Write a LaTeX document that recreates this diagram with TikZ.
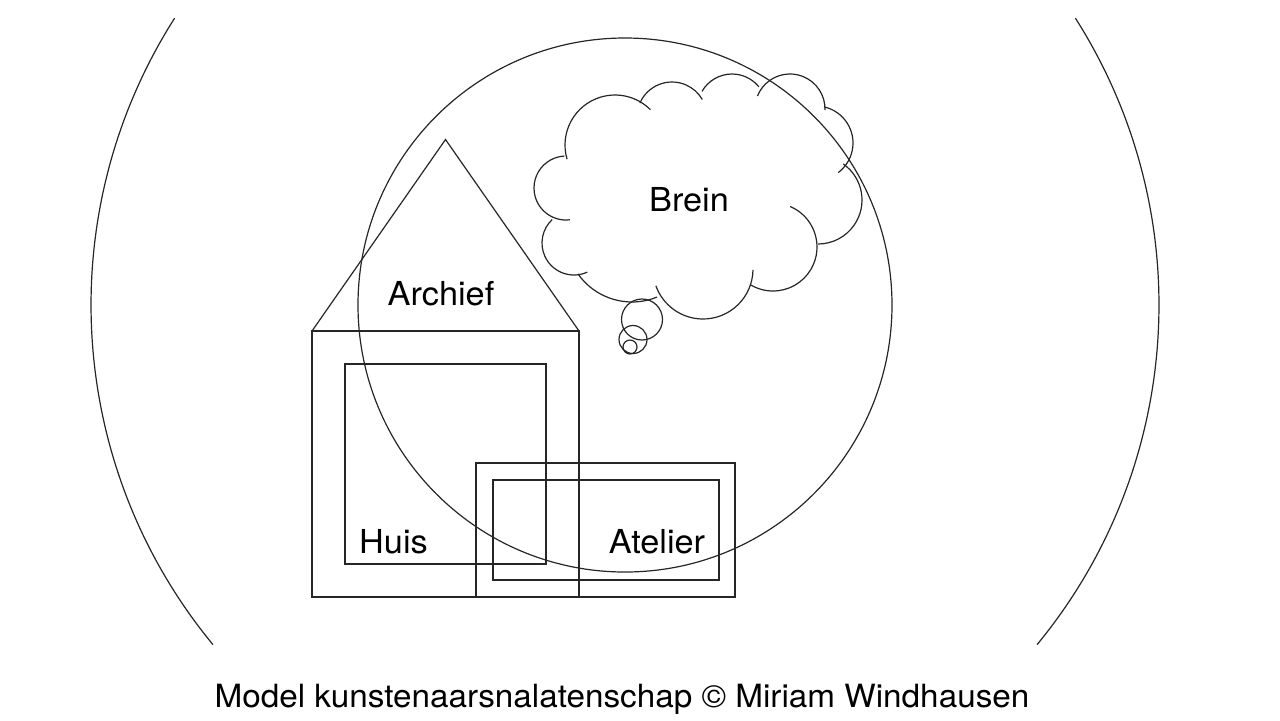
\documentclass[tikz,border=0pt]{standalone}
\usepackage{fontspec}
\setmainfont{TeX Gyre Heros}[FakeStretch=1.04]
\begin{document}
\begin{tikzpicture}[x=0.5pt,y=-0.5pt,
  ln/.style={draw=black!85,line width=0.6pt},
  lbl/.style={anchor=base,inner sep=0pt,font=\fontsize{16.5}{19}\selectfont},
  captiontext/.style={anchor=base,inner sep=0pt,font=\fontsize{16}{19}\selectfont},
  bump/.style={ln}]
\useasboundingbox (0,0) rectangle (1280,720);
% outer arcs (parts of one large circle)
\coordinate (O) at (625,305);
\draw[ln] (O) ++(140.5:534) arc[start angle=140.5,end angle=212.5,radius=534];
\draw[ln] (O) ++(-32.5:534) arc[start angle=-32.5,end angle=39.5,radius=534];
% big circle
\draw[ln] (O) circle[radius=267];
% house
\coordinate (hbl) at (312,597);
\coordinate (htl) at (312,331);
\coordinate (htr) at (579,331);
\coordinate (hbr) at (579,597);
\coordinate (apex) at (445.5,139.5);
\draw[ln] (hbl) -- (htl) -- (htr) -- (hbr) -- cycle;
\draw[ln] (htl) -- (apex) -- (htr);
\draw[ln] (345,364) rectangle (546,564);
% atelier
\draw[ln] (476,463) rectangle (735,597);
\draw[ln] (493,480) rectangle (719,580);
% cloud
\draw[bump] (615,145) ++(163.6:50) arc[start angle=163.6,end angle=315,radius=50];
\draw[bump] (672,117) ++(203.6:35) arc[start angle=203.6,end angle=330,radius=35];
\draw[bump] (732,108.6) ++(209.8:34.6) arc[start angle=209.8,end angle=321,radius=34.6];
\draw[bump] (790,109) ++(201.8:35) arc[start angle=201.8,end angle=361.7,radius=35];
\draw[bump] (816,143) ++(282.5:37) arc[start angle=282.5,end angle=413,radius=37];
\draw[bump] (818,200) ++(305:44) arc[start angle=305,end angle=450,radius=44];
\draw[bump] (773,247) ++(293:44) arc[start angle=293,end angle=481.5,radius=44];
\draw[bump] (703,269) ++(1:50) arc[start angle=1,end angle=160.4,radius=50];
\draw[bump] (632,236) ++(67.7:66) arc[start angle=67.7,end angle=144.9,radius=66];
\draw[bump] (574,243) ++(65.4:32) arc[start angle=65.4,end angle=227,radius=32];
\draw[bump] (566,188) ++(83.2:32) arc[start angle=83.2,end angle=267,radius=32];
% thought bubbles
\draw[ln] (642,319.5) circle[radius=20.5];
\draw[ln] (633,339.5) circle[radius=14];
\draw[ln] (630,347) circle[radius=7];
% labels
\node[lbl] (brein) at (689,211.5) {Brein};
\node[lbl] (archief) at (441,305) {Archief};
\node[lbl] (huis) at (393.5,553.3) {Huis};
\node[lbl] (atelier) at (657,553.3) {Atelier};
\node[captiontext] (caption) at (622,707) {Model kunstenaarsnalatenschap © Miriam Windhausen};
\end{tikzpicture}
\end{document}
